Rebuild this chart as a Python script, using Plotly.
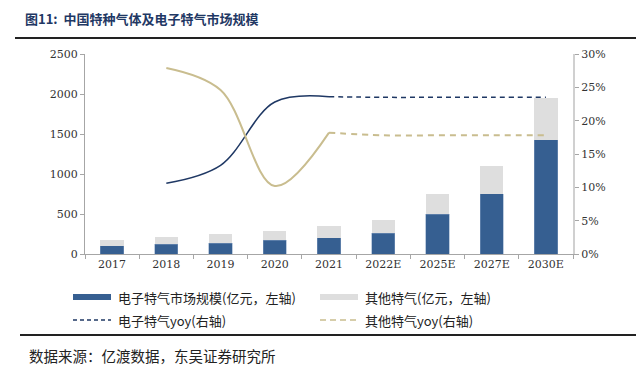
import plotly.graph_objects as go

categories = ['2017', '2018', '2019', '2020', '2021', '2022E', '2025E', '2027E', '2030E']
elec_market = [106, 119, 135, 169, 206, 260, 498, 752, 1431]
other_market = [72, 91, 109, 116, 142, 159, 246, 342, 517]
elec_yoy = [None, 10.6, 13.3, 22.8, 23.6, 23.5, 23.5, 23.5, 23.5]
other_yoy = [None, 27.9, 24.6, 10.2, 18.2, 17.8, 17.8, 17.8, 17.8]
actual_n = 5  # 2017-2021 actual, rest estimates

CN = "Noto Sans CJK SC"
BLUE = "#365F91"
GRAY = "#DEDEDE"
NAVY = "#1F3864"
KHAKI = "#C9BD8F"

# The page body has an 8px margin, so the figure is drawn 8px smaller and
# all reference pixel positions are shifted by OFF.
OFF = 8
W, H = 644 - OFF, 372 - OFF
L, R, T, B = 85 - OFF, 573 - OFF, 54 - OFF, 254 - OFF


def px(x):
    return (x - OFF - L) / (R - L)


def py(y):
    return (B - (y - OFF)) / (B - T)


fig = go.Figure()
fig.add_bar(x=categories, y=elec_market, name="电子特气市场规模(亿元，左轴)",
            marker=dict(color=BLUE, line=dict(color="#7F9BC0", width=0.5)))
fig.add_bar(x=categories, y=other_market, name="其他特气(亿元，左轴)",
            marker=dict(color=GRAY, line=dict(width=0)))

# solid (actual) parts
fig.add_scatter(x=categories[:actual_n], y=elec_yoy[:actual_n], yaxis="y2", mode="lines",
                line=dict(color=NAVY, width=1.5, shape="spline", smoothing=1.0))
fig.add_scatter(x=categories[:actual_n], y=other_yoy[:actual_n], yaxis="y2", mode="lines",
                line=dict(color=KHAKI, width=2, shape="spline", smoothing=1.0))
# dashed (estimate) parts
fig.add_scatter(x=categories[actual_n - 1:], y=elec_yoy[actual_n - 1:], yaxis="y2", mode="lines",
                name="电子特气yoy(右轴)",
                line=dict(color=NAVY, width=1.5, dash="5px,4px", shape="spline", smoothing=1.0))
fig.add_scatter(x=categories[actual_n - 1:], y=other_yoy[actual_n - 1:], yaxis="y2", mode="lines",
                name="其他特气yoy(右轴)",
                line=dict(color=KHAKI, width=2, dash="6px,5px", shape="spline", smoothing=1.0))

axis_font = dict(family="DejaVu Serif, Liberation Serif", size=11, color="#333333")

fig.update_layout(
    width=W, height=H,
    margin=dict(l=L, r=W - R, t=T, b=H - B),
    paper_bgcolor="white", plot_bgcolor="white",
    barmode="stack", bargap=0.57,
    font=dict(family=CN, size=12, color="#222222"),
    showlegend=False,
    xaxis=dict(type="category", showline=True, linecolor="#A6A6A6", linewidth=1,
               ticks="outside", tickson="boundaries", ticklen=4, tickcolor="#A6A6A6",
               tickfont=axis_font, showgrid=False, automargin=False),
    yaxis=dict(range=[0, 2500], dtick=500, showline=True, linecolor="#A6A6A6", linewidth=1,
               ticks="outside", ticklen=4, tickcolor="#A6A6A6", tickfont=axis_font,
               showgrid=False, zeroline=False, automargin=False),
    yaxis2=dict(range=[0, 30], dtick=5, ticksuffix="%", overlaying="y", side="right",
                showline=True, linecolor="#D0D0D0", linewidth=2, ticks="outside", ticklen=4,
                tickcolor="#A6A6A6", tickfont=axis_font, showgrid=False, zeroline=False,
                automargin=False),
)

# title and rules
fig.add_annotation(xref="paper", yref="paper", x=px(24), y=py(OFF), xanchor="left", yanchor="top",
                   text="<b>图11:  中国特种气体及电子特气市场规模</b>", showarrow=False,
                   borderpad=0, font=dict(family=CN, size=13, color=NAVY))
fig.add_shape(type="line", xref="paper", yref="paper", x0=px(15), x1=px(644), y0=py(38), y1=py(38),
              line=dict(color="#222222", width=2))
fig.add_shape(type="line", xref="paper", yref="paper", x0=px(20), x1=px(644), y0=py(335), y1=py(335),
              line=dict(color="#222222", width=2))
fig.add_annotation(xref="paper", yref="paper", x=px(27), y=py(355), xanchor="left", yanchor="middle",
                   text="数据来源：亿渡数据，东吴证券研究所", showarrow=False,
                   font=dict(family=CN, size=14.5, color="#222222"))

# legend (drawn manually to match the reference layout)
legend_items = [
    ("rect", BLUE, None, "电子特气市场规模(亿元，左轴)", 73, 297),
    ("rect", GRAY, None, "其他特气(亿元，左轴)", 320, 297),
    ("line", NAVY, "4px,3px", "电子特气yoy(右轴)", 73, 320),
    ("line", KHAKI, "6px,4px", "其他特气yoy(右轴)", 320, 320),
]
for kind, color, dash, label, x0, yc in legend_items:
    if kind == "rect":
        fig.add_shape(type="rect", xref="paper", yref="paper", x0=px(x0), x1=px(x0 + 38),
                      y0=py(yc + 3), y1=py(yc - 3), fillcolor=color, line=dict(width=0))
    else:
        fig.add_shape(type="line", xref="paper", yref="paper", x0=px(x0), x1=px(x0 + 38),
                      y0=py(yc), y1=py(yc), line=dict(color=color, width=1.5, dash=dash))
    fig.add_annotation(xref="paper", yref="paper", x=px(x0 + 43), y=py(yc), xanchor="left",
                       yanchor="middle", text=label, showarrow=False,
                       font=dict(family=CN, size=13, color="#222222"))

fig.write_html("out.html")
